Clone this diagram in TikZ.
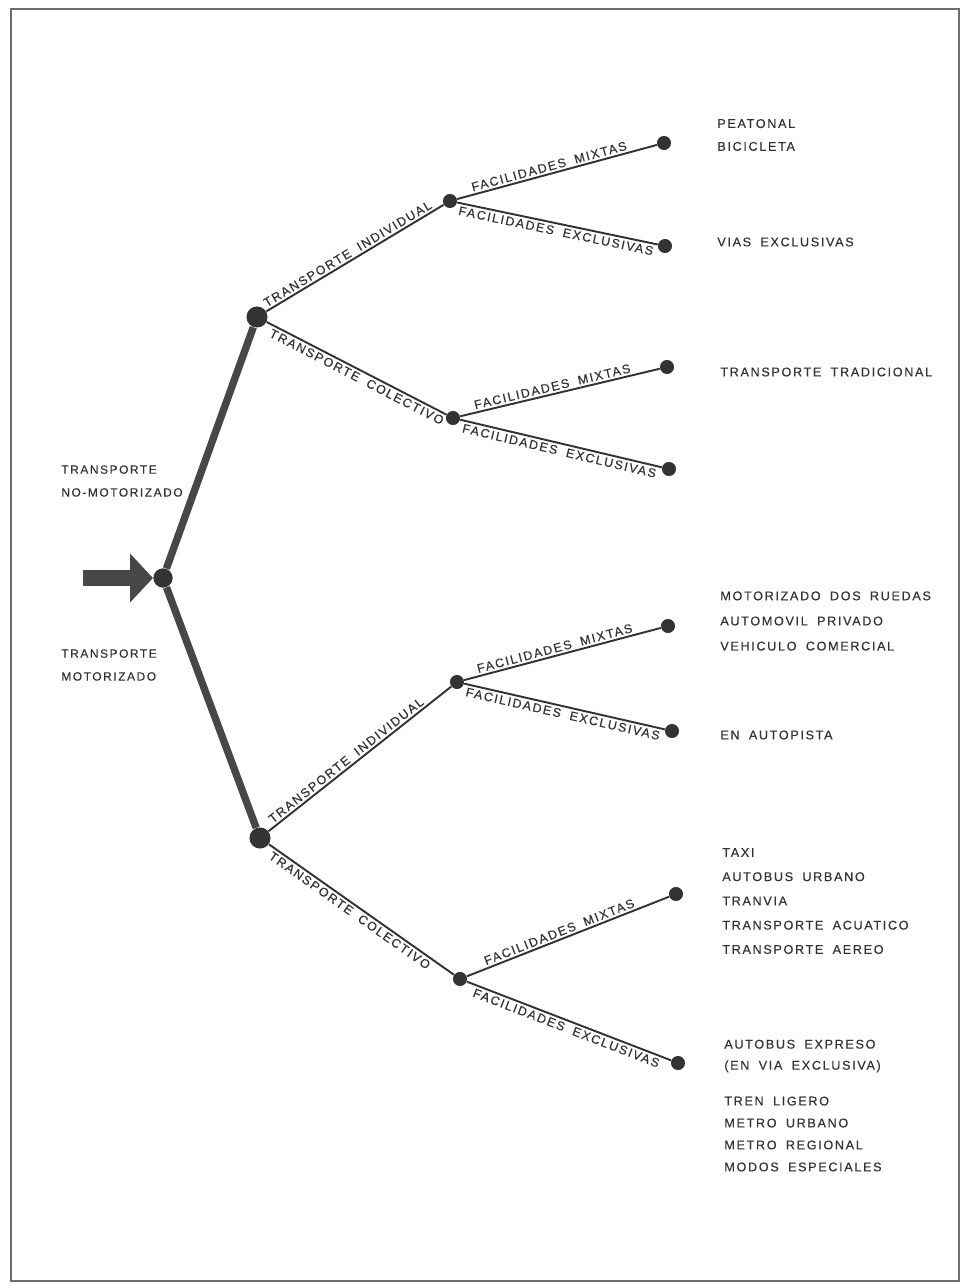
\documentclass[tikz,border=0pt]{standalone}
\usepackage{fontspec}
\usepackage{tikz}
\usetikzlibrary{arrows.meta}
\newfontfamily\lettering[LetterSpace=13,WordSpace=1.8,FakeBold=0.4]{Liberation Sans}
\definecolor{tinta}{HTML}{333333}
\definecolor{marco}{HTML}{6E6E6E}

\tikzset{
  punto/.style={circle, fill=tinta, inner sep=0pt, minimum size=8pt},
  nudo/.style={punto, minimum size=12pt},
  tronco/.style={draw=tinta!90!white, line width=4.2pt},
  rama/.style={draw=tinta, line width=1.1pt},
  rotulo/.style={font=\lettering\fontsize{7.1}{8}\selectfont, text=tinta, sloped, inner sep=1.2pt},
  modo/.style={font=\lettering\fontsize{7.2}{13}\selectfont, text=tinta, anchor=west, align=left, inner sep=0pt}
}

\begin{document}
\begin{tikzpicture}[x=0.02cm, y=-0.02cm]
\useasboundingbox (0,0) rectangle (966,1285);
\draw[marco, line width=1.2pt] (11,9) rectangle (959,1281);

% arbol
\node[punto, minimum size=11pt] (raiz) at (163,578) {};
\node[nudo] (nomot) at (257,317) {};
\node[nudo] (mot) at (260,838) {};
\node[punto] (ind1) at (450,201) {};
\node[punto] (col1) at (453,418) {};
\node[punto] (ind2) at (457,682) {};
\node[punto] (col2) at (460,979) {};
\node[punto] (h1) at (664,143) {};
\node[punto] (h2) at (665,246) {};
\node[punto] (h3) at (667,367) {};
\node[punto] (h4) at (669,469) {};
\node[punto] (h5) at (668,626) {};
\node[punto] (h6) at (672,731) {};
\node[punto] (h7) at (676,894) {};
\node[punto] (h8) at (678,1063) {};

\coordinate (entrada) at (83,578);
\draw[tinta!90!white, line width=9pt, -{Triangle[length=13pt, width=27pt]}] (entrada) -- (raiz.west);

\draw[tronco] (raiz) -- (nomot);
\draw[tronco] (raiz) -- (mot);

\draw[rama] (nomot) -- node[rotulo, above, pos=0.48] {TRANSPORTE INDIVIDUAL} (ind1);
\draw[rama] (nomot) -- node[rotulo, below, pos=0.52] {TRANSPORTE COLECTIVO} (col1);
\draw[rama] (mot) -- node[rotulo, above, pos=0.45] {TRANSPORTE INDIVIDUAL} (ind2);
\draw[rama] (mot) -- node[rotulo, below, pos=0.46] {TRANSPORTE COLECTIVO} (col2);

\draw[rama] (ind1) -- node[rotulo, above, pos=0.47] {FACILIDADES MIXTAS} (h1);
\draw[rama] (ind1) -- node[rotulo, below] {FACILIDADES EXCLUSIVAS} (h2);
\draw[rama] (col1) -- node[rotulo, above, pos=0.47] {FACILIDADES MIXTAS} (h3);
\draw[rama] (col1) -- node[rotulo, below] {FACILIDADES EXCLUSIVAS} (h4);
\draw[rama] (ind2) -- node[rotulo, above, pos=0.47] {FACILIDADES MIXTAS} (h5);
\draw[rama] (ind2) -- node[rotulo, below] {FACILIDADES EXCLUSIVAS} (h6);
\draw[rama] (col2) -- node[rotulo, above, pos=0.47] {FACILIDADES MIXTAS} (h7);
\draw[rama] (col2) -- node[rotulo, below] {FACILIDADES EXCLUSIVAS} (h8);

% textos
\node[modo, font=\lettering\fontsize{6.8}{13}\selectfont] (t-nomot) at (61,481) {TRANSPORTE\\NO-MOTORIZADO};
\node[modo, font=\lettering\fontsize{6.8}{13}\selectfont] (t-mot) at (61,665) {TRANSPORTE\\MOTORIZADO};

\node[modo] (m1) at (717,135) {PEATONAL\\BICICLETA};
\node[modo] (m2) at (717,242) {VIAS EXCLUSIVAS};
\node[modo] (m3) at (720,372) {TRANSPORTE TRADICIONAL};
\node[modo, font=\lettering\fontsize{7.2}{14.3}\selectfont] (m5) at (720,621) {MOTORIZADO DOS RUEDAS\\AUTOMOVIL PRIVADO\\VEHICULO COMERCIAL};
\node[modo] (m6) at (720,735) {EN AUTOPISTA};
\node[modo, font=\lettering\fontsize{7.2}{13.8}\selectfont] (m7) at (722,901) {TAXI\\AUTOBUS URBANO\\TRANVIA\\TRANSPORTE ACUATICO\\TRANSPORTE AEREO};
\node[modo, font=\lettering\fontsize{7.2}{12}\selectfont] (m8) at (724,1056) {AUTOBUS EXPRESO\\(EN VIA EXCLUSIVA)};
\node[modo, font=\lettering\fontsize{7.2}{12.5}\selectfont] (m9) at (724,1134) {TREN LIGERO\\METRO URBANO\\METRO REGIONAL\\MODOS ESPECIALES};
\end{tikzpicture}
\end{document}
